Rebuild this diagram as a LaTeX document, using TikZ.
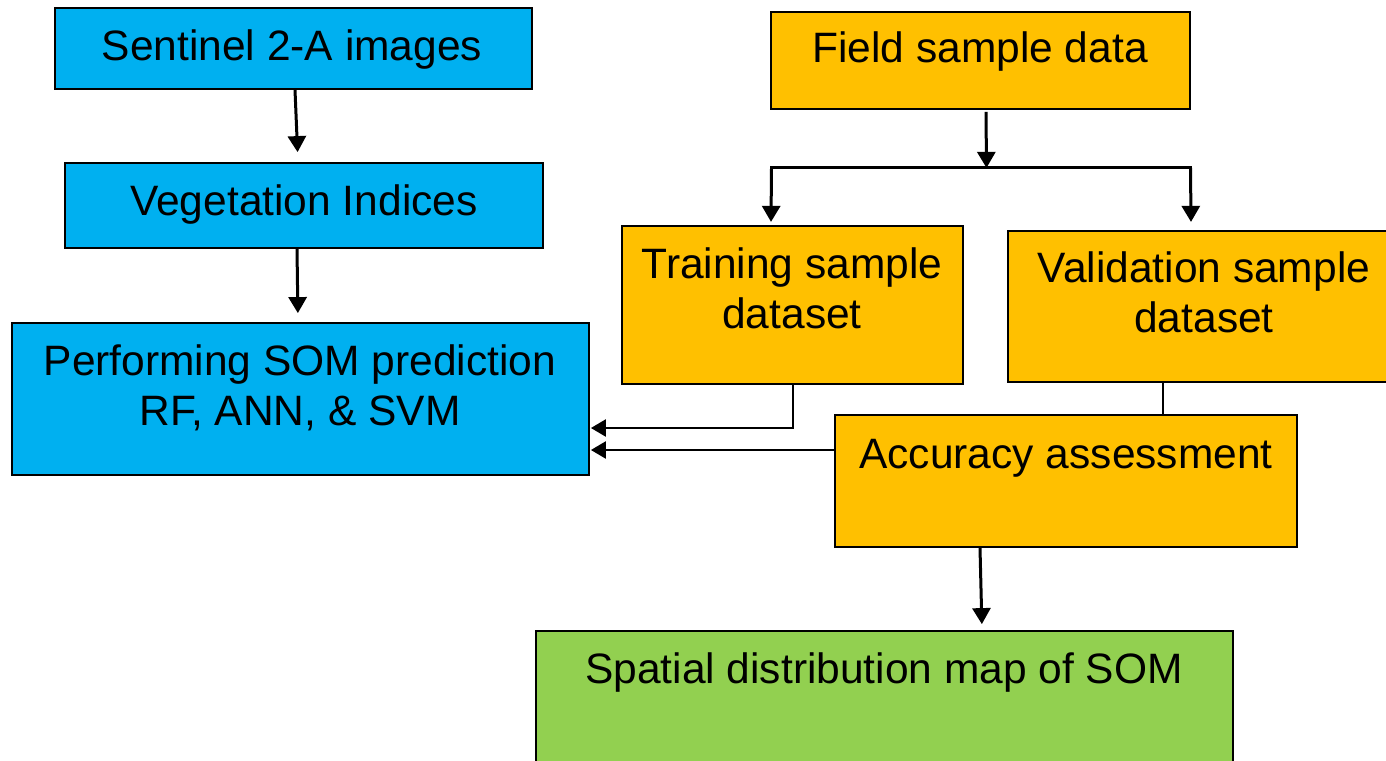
\documentclass[tikz,border=0pt]{standalone}
\usepackage{fontspec}
\setmainfont{Liberation Sans}
\usetikzlibrary{arrows.meta,calc}
\definecolor{skyblue}{HTML}{00B0F0}
\definecolor{amber}{HTML}{FFC000}
\definecolor{leaf}{HTML}{92D050}
\begin{document}
\begin{tikzpicture}[x=1pt,y=-1pt,
  box/.style={draw=black,line width=1.8pt,inner sep=0pt},
  bluebox/.style={box,fill=skyblue},
  orangebox/.style={box,fill=amber},
  greenbox/.style={box,fill=leaf},
  txt/.style={font=\fontsize{42.5}{50}\selectfont,align=center,anchor=base,inner sep=0pt},
  conn/.style={draw=black,line width=3pt},
  arr/.style={conn,-{Triangle[width=18pt,length=16pt]}},
  thinarr/.style={draw=black,line width=2.4pt,-{Triangle[width=17pt,length=15pt]}}]
\useasboundingbox (0,0) rectangle (1386,760);
\clip (0,0) rectangle (1386,760);
\fill[white] (0,0) rectangle (1386,760);

% boxes
\node[bluebox,minimum width=477pt,minimum height=81pt] (sent) at (293.5,48.5) {};
\node[bluebox,minimum width=478pt,minimum height=85pt] (veg) at (304,205.5) {};
\node[bluebox,minimum width=577pt,minimum height=152pt] (perf) at (300.5,399) {};
\node[orangebox,minimum width=419pt,minimum height=97pt] (field) at (980.5,60.5) {};
\node[orangebox,minimum width=341pt,minimum height=158pt] (train) at (792.5,305) {};
\node[orangebox,minimum width=390pt,minimum height=151pt] (valid) at (1203,306.5) {};
\node[orangebox,minimum width=462pt,minimum height=132pt] (acc) at (1066,481) {};
\node[greenbox,minimum width=697pt,minimum height=150pt] (spat) at (884.5,706) {};

% labels (base anchor sits on the last line)
\node[txt] (tsent) at (292,60) {Sentinel 2-A images};
\node[txt] (tveg) at (304,215) {Vegetation Indices};
\node[txt] (tperf) at (300,425) {Performing SOM prediction\\RF, ANN, \& SVM};
\node[txt] (tfield) at (980,63) {Field sample data};
\node[txt] (ttrain) at (792,328) {Training sample\\dataset};
\node[txt] (tvalid) at (1204,332) {Validation sample\\dataset};
\node[txt] (tacc) at (1066,468) {Accuracy assessment};
\node[txt] (tspat) at (884,683) {Spatial distribution map of SOM};

% split point below the field data box
\coordinate (split) at ($(field.south)+(6,58)$);
\coordinate (sl) at ($(split)+(-215,0)$);
\coordinate (sr) at ($(split)+(204,0)$);

% connectors
\draw[arr,shorten >=10pt] ([xshift=1.5pt]sent.south) -- ([xshift=4.5pt]sent.south |- veg.north);
\draw[arr,shorten >=9pt] ([xshift=-7pt]veg.south) -- ([xshift=-6pt]veg.south |- perf.north);
\draw[arr] ([xshift=5.5pt,yshift=-2pt]field.south) -- (split);
\draw[conn,line cap=rect] (sl) -- (sr);
\draw[arr] (sl) -- ($(sl)+(-0.5,54)$);
\draw[arr] (sr) -- ($(sr)+(0.5,54)$);
\draw[thinarr] ([xshift=0.5pt]train.south) |- ([xshift=1pt,yshift=-29pt]perf.east);
\draw[thinarr] ([yshift=31pt]acc.west) -- ([xshift=1pt,yshift=-51pt]perf.east);
\draw[draw=black,line width=1.6pt] ([xshift=-40pt]valid.south) -- ([xshift=-40pt]valid.south |- acc.north);
\draw[arr,shorten >=6pt] ([xshift=-86pt]acc.south) -- ([xshift=-84pt]acc.south |- spat.north);
\end{tikzpicture}
\end{document}
